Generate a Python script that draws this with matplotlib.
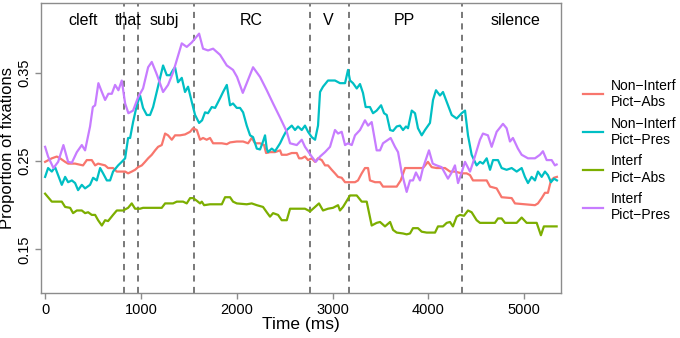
import matplotlib
matplotlib.use("Agg")
import matplotlib.pyplot as plt

plt.rcParams['font.family'] = ['Liberation Sans', 'DejaVu Sans']

# ---- data -------------------------------------------------------------
series_names = ["Non\u2212Interf\nPict\u2212Abs", "Non\u2212Interf\nPict\u2212Pres",
                "Interf\nPict\u2212Abs", "Interf\nPict\u2212Pres"]
series_colors = ["#F8766D", "#00BFC4", "#7CAE00", "#C77CFF"]

nonint_abs_t = [0, 70, 122, 156, 209, 240, 313, 396, 435, 487, 522, 553, 626, 657, 709, 748, 835, 866,
                904, 939, 970, 1009, 1043, 1075, 1113, 1148, 1179, 1217, 1252, 1283, 1322, 1356, 1408,
                1460, 1513, 1544, 1583, 1617, 1648, 1686, 1721, 1753, 1844, 1896, 1930, 2000, 2066, 2118,
                2156, 2191, 2243, 2285, 2306, 2347, 2399, 2452, 2469, 2522, 2574, 2626, 2650, 2678, 2712,
                2744, 2782, 2817, 2848, 2887, 2921, 2952, 2991, 3025, 3057, 3095, 3130, 3234, 3265, 3304,
                3338, 3370, 3390, 3443, 3495, 3526, 3669, 3711, 3756, 3808, 3943, 3995, 4034, 4086, 4173,
                4225, 4277, 4347, 4399, 4434, 4465, 4608, 4643, 4712, 4764, 4869, 4903, 5112, 5143, 5182,
                5216, 5247, 5279, 5310, 5341]
nonint_abs_v = [0.249, 0.253, 0.255, 0.253, 0.249, 0.247, 0.247, 0.245, 0.251, 0.251, 0.245, 0.247, 0.245,
                0.242, 0.242, 0.238, 0.238, 0.236, 0.238, 0.240, 0.243, 0.245, 0.249, 0.253, 0.257, 0.262,
                0.266, 0.268, 0.281, 0.279, 0.274, 0.279, 0.279, 0.280, 0.283, 0.287, 0.285, 0.274, 0.276,
                0.274, 0.276, 0.270, 0.270, 0.269, 0.271, 0.272, 0.272, 0.270, 0.276, 0.270, 0.270, 0.268,
                0.259, 0.260, 0.260, 0.262, 0.257, 0.257, 0.259, 0.259, 0.253, 0.253, 0.255, 0.251, 0.253,
                0.249, 0.253, 0.251, 0.245, 0.245, 0.240, 0.236, 0.232, 0.231, 0.226, 0.226, 0.228, 0.236,
                0.242, 0.242, 0.228, 0.226, 0.226, 0.221, 0.221, 0.228, 0.242, 0.242, 0.242, 0.249, 0.243,
                0.242, 0.242, 0.238, 0.238, 0.236, 0.236, 0.234, 0.228, 0.228, 0.221, 0.219, 0.209, 0.208,
                0.202, 0.200, 0.202, 0.208, 0.214, 0.214, 0.228, 0.231, 0.232]

nonint_pres_t = [0, 31, 70, 104, 136, 174, 209, 240, 279, 313, 344, 383, 417, 469, 501, 539, 574, 605, 644,
                 678, 709, 762, 800, 835, 866, 887, 918, 957, 991, 1022, 1061, 1095, 1127, 1165, 1200, 1231,
                 1270, 1304, 1335, 1356, 1387, 1426, 1460, 1492, 1530, 1565, 1607, 1638, 1669, 1700, 1739,
                 1774, 1826, 1857, 1896, 1930, 1961, 2000, 2034, 2066, 2104, 2139, 2170, 2209, 2243, 2274,
                 2295, 2313, 2326, 2365, 2399, 2452, 2483, 2522, 2574, 2608, 2639, 2678, 2712, 2744, 2782,
                 2817, 2848, 2869, 2900, 2952, 3025, 3077, 3130, 3161, 3182, 3213, 3252, 3286, 3317, 3345,
                 3390, 3422, 3460, 3506, 3537, 3565, 3600, 3631, 3669, 3703, 3735, 3766, 3787, 3826, 3860,
                 3891, 3930, 3964, 4016, 4048, 4079, 4121, 4152, 4191, 4243, 4295, 4347, 4382, 4413, 4451,
                 4503, 4538, 4569, 4608, 4643, 4674, 4726, 4764, 4816, 4869, 4921, 4973, 5007, 5039, 5077,
                 5112, 5143, 5182, 5216, 5247, 5279, 5310, 5341]
nonint_pres_v = [0.232, 0.242, 0.238, 0.243, 0.234, 0.223, 0.232, 0.226, 0.228, 0.225, 0.217, 0.223, 0.219,
                 0.223, 0.231, 0.228, 0.242, 0.236, 0.228, 0.228, 0.238, 0.245, 0.249, 0.253, 0.276, 0.276,
                 0.294, 0.313, 0.324, 0.310, 0.302, 0.302, 0.311, 0.328, 0.344, 0.358, 0.347, 0.347, 0.353,
                 0.356, 0.339, 0.344, 0.328, 0.334, 0.317, 0.302, 0.293, 0.296, 0.305, 0.304, 0.311, 0.310,
                 0.321, 0.328, 0.336, 0.313, 0.315, 0.310, 0.310, 0.305, 0.290, 0.279, 0.277, 0.264, 0.263,
                 0.272, 0.279, 0.264, 0.260, 0.264, 0.261, 0.270, 0.277, 0.285, 0.290, 0.285, 0.289, 0.285,
                 0.290, 0.283, 0.277, 0.274, 0.290, 0.328, 0.334, 0.341, 0.341, 0.338, 0.338, 0.353, 0.341,
                 0.338, 0.332, 0.337, 0.327, 0.311, 0.311, 0.304, 0.307, 0.313, 0.304, 0.302, 0.285, 0.284,
                 0.289, 0.290, 0.285, 0.289, 0.287, 0.307, 0.304, 0.287, 0.279, 0.285, 0.293, 0.319, 0.330,
                 0.324, 0.328, 0.317, 0.302, 0.298, 0.304, 0.307, 0.279, 0.257, 0.245, 0.249, 0.247, 0.253,
                 0.240, 0.251, 0.251, 0.242, 0.240, 0.242, 0.238, 0.242, 0.232, 0.225, 0.232, 0.228, 0.238,
                 0.232, 0.238, 0.234, 0.226, 0.230, 0.228]

int_abs_t = [0, 31, 70, 174, 209, 261, 292, 331, 383, 417, 449, 487, 522, 553, 592, 626, 657, 709, 748,
             814, 866, 904, 939, 991, 1022, 1217, 1252, 1335, 1374, 1440, 1478, 1513, 1544, 1583, 1617,
             1635, 1659, 1721, 1844, 1878, 1930, 1961, 2000, 2104, 2156, 2209, 2274, 2313, 2347, 2379,
             2431, 2469, 2522, 2556, 2712, 2765, 2817, 2858, 2900, 2952, 3004, 3057, 3077, 3109, 3182,
             3252, 3304, 3356, 3408, 3460, 3495, 3547, 3600, 3631, 3669, 3735, 3773, 3808, 3839, 3891,
             3930, 3982, 4069, 4100, 4152, 4191, 4225, 4256, 4295, 4329, 4371, 4413, 4451, 4503, 4538,
             4694, 4726, 4764, 4799, 4921, 4973, 5025, 5130, 5174, 5205, 5338]
int_abs_v = [0.213, 0.209, 0.204, 0.204, 0.198, 0.197, 0.191, 0.194, 0.194, 0.191, 0.192, 0.189, 0.189,
             0.183, 0.177, 0.183, 0.182, 0.189, 0.194, 0.194, 0.197, 0.202, 0.196, 0.196, 0.197, 0.197,
             0.202, 0.202, 0.204, 0.204, 0.202, 0.208, 0.208, 0.205, 0.202, 0.204, 0.200, 0.201, 0.201,
             0.209, 0.209, 0.204, 0.202, 0.201, 0.202, 0.200, 0.198, 0.192, 0.187, 0.191, 0.189, 0.183,
             0.183, 0.196, 0.196, 0.193, 0.198, 0.202, 0.194, 0.196, 0.197, 0.200, 0.194, 0.198, 0.211,
             0.211, 0.204, 0.204, 0.177, 0.180, 0.181, 0.176, 0.181, 0.172, 0.169, 0.168, 0.167, 0.168,
             0.174, 0.174, 0.170, 0.169, 0.169, 0.176, 0.176, 0.180, 0.181, 0.176, 0.187, 0.189, 0.188,
             0.194, 0.192, 0.183, 0.180, 0.180, 0.185, 0.185, 0.180, 0.180, 0.186, 0.180, 0.180, 0.166,
             0.176, 0.176]

int_pres_t = [0, 31, 87, 136, 191, 240, 279, 331, 383, 417, 469, 498, 522, 556, 592, 626, 660, 696, 730,
              765, 800, 835, 869, 918, 970, 1022, 1075, 1113, 1158, 1179, 1231, 1283, 1335, 1426, 1478,
              1530, 1607, 1648, 1700, 1753, 1826, 1896, 1961, 2003, 2063, 2104, 2170, 2243, 2313, 2379,
              2452, 2522, 2556, 2626, 2678, 2712, 2782, 2824, 2869, 2921, 2973, 3025, 3057, 3095, 3130,
              3161, 3200, 3234, 3286, 3338, 3370, 3408, 3460, 3495, 3526, 3606, 3651, 3683, 3721, 3773,
              3808, 3839, 3870, 3912, 3943, 4006, 4045, 4086, 4138, 4204, 4243, 4277, 4309, 4347, 4382,
              4434, 4465, 4538, 4569, 4621, 4660, 4712, 4778, 4816, 4851, 4882, 4934, 4973, 5039, 5112,
              5164, 5195, 5234, 5286, 5320, 5338]
int_pres_v = [0.266, 0.255, 0.242, 0.249, 0.268, 0.249, 0.248, 0.260, 0.268, 0.262, 0.289, 0.311, 0.313,
              0.338, 0.328, 0.319, 0.326, 0.326, 0.336, 0.330, 0.341, 0.315, 0.304, 0.307, 0.322, 0.332,
              0.356, 0.362, 0.350, 0.344, 0.328, 0.336, 0.350, 0.383, 0.379, 0.384, 0.394, 0.377, 0.375,
              0.377, 0.370, 0.358, 0.353, 0.345, 0.327, 0.338, 0.356, 0.345, 0.330, 0.315, 0.299, 0.283,
              0.270, 0.268, 0.274, 0.266, 0.255, 0.249, 0.255, 0.260, 0.266, 0.285, 0.281, 0.283, 0.268,
              0.270, 0.268, 0.279, 0.285, 0.296, 0.290, 0.294, 0.262, 0.262, 0.270, 0.276, 0.266, 0.260,
              0.237, 0.215, 0.228, 0.228, 0.237, 0.228, 0.242, 0.262, 0.247, 0.245, 0.243, 0.230, 0.237,
              0.245, 0.225, 0.237, 0.249, 0.238, 0.248, 0.274, 0.281, 0.279, 0.266, 0.283, 0.292, 0.287,
              0.272, 0.276, 0.264, 0.257, 0.253, 0.253, 0.257, 0.261, 0.251, 0.251, 0.245, 0.246]

boundaries = [821, 967, 1554, 2764, 3175, 4350]
region_labels = ["cleft", "that", "subj", "RC", "V", "PP", "silence"]
region_label_x = [396, 866, 1241, 2149, 2952, 3745, 4913]

x_ticks = [0, 1000, 2000, 3000, 4000, 5000]
y_ticks = [0.15, 0.25, 0.35]

# ---- figure -----------------------------------------------------------
fig = plt.figure(figsize=(6.8, 3.38), dpi=100)
ax = fig.add_axes([0.06, 0.134, 0.7645, 0.858])

all_t = [nonint_abs_t, nonint_pres_t, int_abs_t, int_pres_t]
all_v = [nonint_abs_v, nonint_pres_v, int_abs_v, int_pres_v]
for t, v, name, col in zip(all_t, all_v, series_names, series_colors):
    ax.plot(t, v, color=col, lw=1.6, label=name, solid_joinstyle='round')

for b in boundaries:
    ax.axvline(b, color="#555555", lw=1.1, ls=(0, (4, 3.5)), zorder=0.5)

for lab, x in zip(region_labels, region_label_x):
    ax.text(x, 0.94, lab, transform=ax.get_xaxis_transform(), ha='center', va='center',
            fontsize=11.5, color='black')

ax.set_xlim(-45, 5380)
ax.set_ylim(0.101, 0.429)
ax.set_xticks(x_ticks)
ax.set_xticklabels([str(x) for x in x_ticks])
ax.set_yticks(y_ticks)
ax.set_yticklabels(["%.2f" % y for y in y_ticks], rotation=90, va='center')

for s in ax.spines.values():
    s.set_color('#8c8c8c')
    s.set_linewidth(1.0)
ax.tick_params(axis='both', direction='out', length=4, width=1.0, color='#8c8c8c',
               labelsize=10.5, labelcolor='black', pad=3.5)
ax.tick_params(axis='y', pad=2.5)

ax.set_xlabel("Time (ms)", fontsize=12.5, labelpad=0)
ax.set_ylabel("Proportion of fixations", fontsize=12)
ax.yaxis.set_label_coords(-0.049, 0.5)

leg = ax.legend(loc='center left', bbox_to_anchor=(1.019, 0.49), frameon=False, fontsize=10,
                handlelength=1.45, handletextpad=0.55, labelspacing=0.55)
for line in leg.get_lines():
    line.set_linewidth(1.6)

fig.savefig("out.png", dpi=100)
